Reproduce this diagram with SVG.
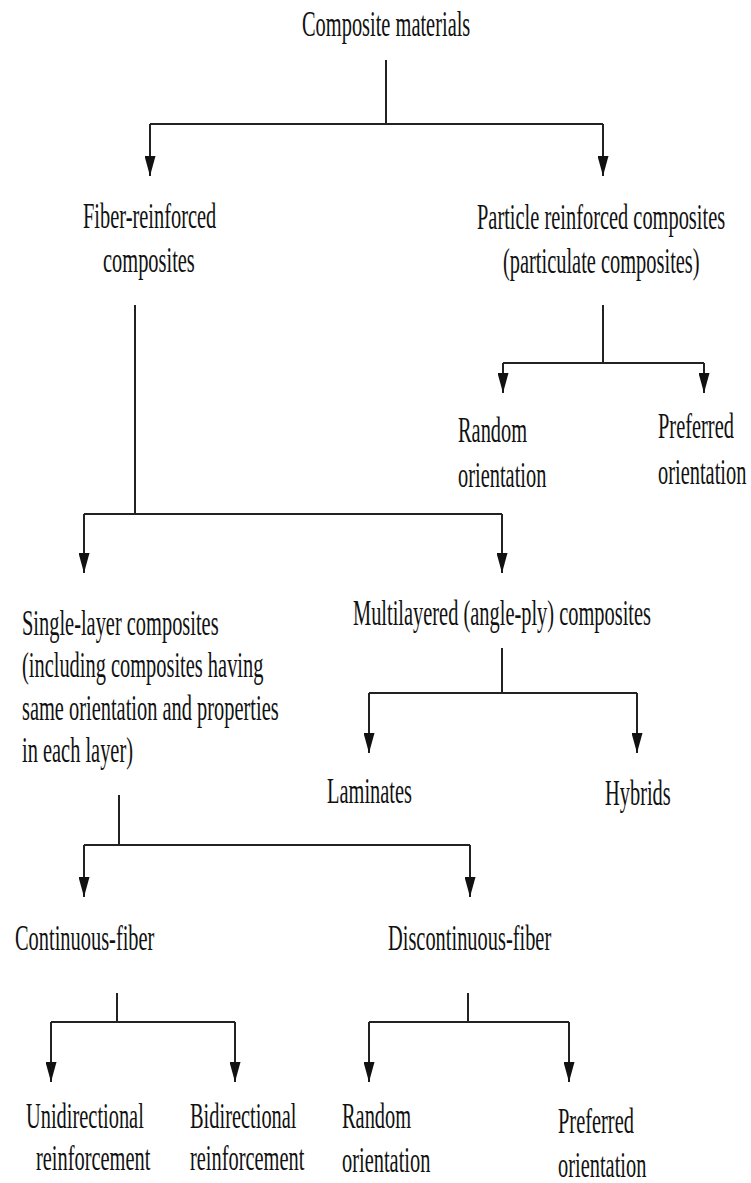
<svg xmlns="http://www.w3.org/2000/svg" width="751" height="1183" viewBox="0 0 751 1183">
<style>
text{font-family:"Liberation Serif","Times New Roman",serif;font-size:36px;fill:#111}
.c{fill:none;stroke:#222;stroke-width:2}
</style>
<defs>
<marker id="ah" viewBox="0 0 20 11" refX="20" refY="5.5" markerWidth="20" markerHeight="11" markerUnits="userSpaceOnUse" orient="auto">
<path d="M0,0 L20,5.5 L0,11 z" fill="#111"/>
</marker>
</defs>
<rect width="751" height="1183" fill="#fff"/>
<g id="connectors">
<path class="c" d="M386,60 V124 M150,124 H603"/>
<path class="c" d="M150,124 V176" marker-end="url(#ah)"/>
<path class="c" d="M603,124 V176" marker-end="url(#ah)"/>
<path class="c" d="M603,305 V363 M503,363 H704"/>
<path class="c" d="M503,363 V393" marker-end="url(#ah)"/>
<path class="c" d="M704,363 V393" marker-end="url(#ah)"/>
<path class="c" d="M135,305 V514 M84,514 H502"/>
<path class="c" d="M84,514 V573" marker-end="url(#ah)"/>
<path class="c" d="M502,514 V573" marker-end="url(#ah)"/>
<path class="c" d="M502,648 V693 M369,693 H637"/>
<path class="c" d="M369,693 V753" marker-end="url(#ah)"/>
<path class="c" d="M637,693 V753" marker-end="url(#ah)"/>
<path class="c" d="M119,795 V845 M84,845 H470"/>
<path class="c" d="M84,845 V897" marker-end="url(#ah)"/>
<path class="c" d="M470,845 V897" marker-end="url(#ah)"/>
<path class="c" d="M117,993 V1022 M51,1022 H235"/>
<path class="c" d="M51,1022 V1082" marker-end="url(#ah)"/>
<path class="c" d="M235,1022 V1082" marker-end="url(#ah)"/>
<path class="c" d="M468,993 V1022 M369,1022 H569"/>
<path class="c" d="M369,1022 V1082" marker-end="url(#ah)"/>
<path class="c" d="M569,1022 V1082" marker-end="url(#ah)"/>
</g>
<g id="n-composite"><text transform="matrix(0.567 0 0 1 302 36)">Composite materials</text></g>
<g id="n-fiber"><text transform="matrix(0.567 0 0 1 83 228)">Fiber-reinforced</text><text transform="matrix(0.567 0 0 1 103 272)">composites</text></g>
<g id="n-particle"><text transform="matrix(0.567 0 0 1 477 229)">Particle reinforced composites</text><text transform="matrix(0.567 0 0 1 503 273)">(particulate composites)</text></g>
<g id="n-p-random"><text transform="matrix(0.567 0 0 1 458 442)">Random</text><text transform="matrix(0.567 0 0 1 458 487)">orientation</text></g>
<g id="n-p-preferred"><text transform="matrix(0.567 0 0 1 658 438)">Preferred</text><text transform="matrix(0.567 0 0 1 658 484)">orientation</text></g>
<g id="n-single"><text transform="matrix(0.567 0 0 1 22 635)">Single-layer composites</text><text transform="matrix(0.567 0 0 1 22 677)">(including composites having</text><text transform="matrix(0.567 0 0 1 22 720)">same orientation and properties</text><text transform="matrix(0.567 0 0 1 22 762)">in each layer)</text></g>
<g id="n-multi"><text transform="matrix(0.567 0 0 1 353 625)">Multilayered (angle-ply) composites</text></g>
<g id="n-laminates"><text transform="matrix(0.567 0 0 1 327 803)">Laminates</text></g>
<g id="n-hybrids"><text transform="matrix(0.567 0 0 1 605 805)">Hybrids</text></g>
<g id="n-continuous"><text transform="matrix(0.567 0 0 1 15 950)">Continuous-fiber</text></g>
<g id="n-discontinuous"><text transform="matrix(0.567 0 0 1 388 950)">Discontinuous-fiber</text></g>
<g id="n-uni"><text transform="matrix(0.567 0 0 1 26 1128)">Unidirectional</text><text transform="matrix(0.567 0 0 1 36 1170)">reinforcement</text></g>
<g id="n-bi"><text transform="matrix(0.567 0 0 1 190 1128)">Bidirectional</text><text transform="matrix(0.567 0 0 1 190 1170)">reinforcement</text></g>
<g id="n-d-random"><text transform="matrix(0.567 0 0 1 342 1128)">Random</text><text transform="matrix(0.567 0 0 1 342 1172)">orientation</text></g>
<g id="n-d-preferred"><text transform="matrix(0.567 0 0 1 558 1133)">Preferred</text><text transform="matrix(0.567 0 0 1 558 1177)">orientation</text></g>
</svg>
